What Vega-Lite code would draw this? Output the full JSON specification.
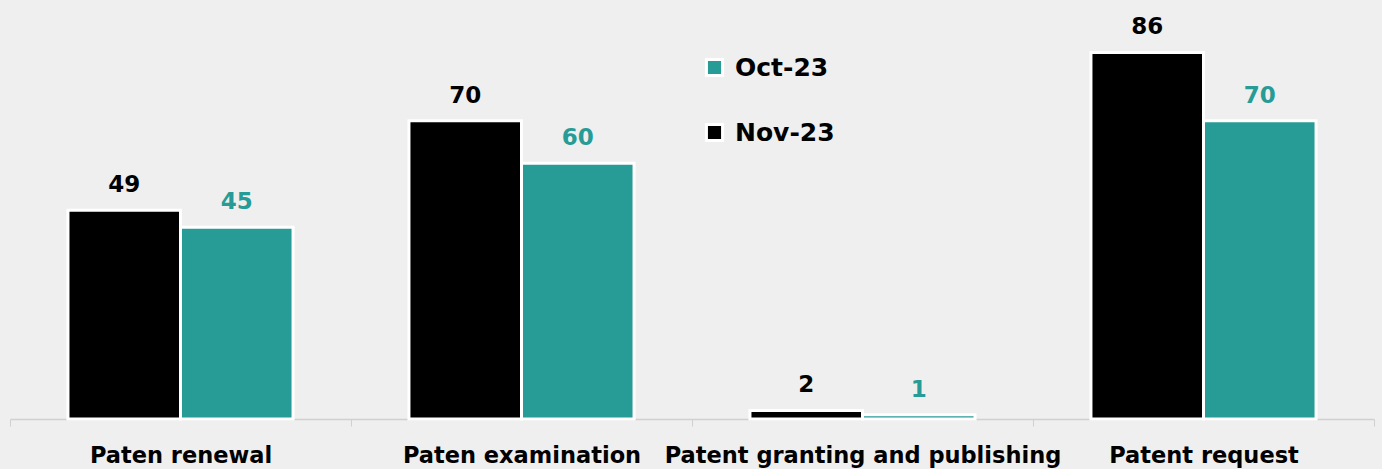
{
  "$schema": "https://vega.github.io/schema/vega-lite/v6.json",
  "width": 1364,
  "height": 419,
  "autosize": "none",
  "padding": {"left": 10, "right": 8, "top": 0, "bottom": 50},
  "background": "#efefef",
  "config": {"view": {"stroke": null}, "font": "DejaVu Sans"},
  "data": {"values": [
    {"category": "Paten renewal", "month": "Nov-23", "value": 49},
    {"category": "Paten renewal", "month": "Oct-23", "value": 45},
    {"category": "Paten examination", "month": "Nov-23", "value": 70},
    {"category": "Paten examination", "month": "Oct-23", "value": 60},
    {"category": "Patent granting and publishing", "month": "Nov-23", "value": 2},
    {"category": "Patent granting and publishing", "month": "Oct-23", "value": 1},
    {"category": "Patent request", "month": "Nov-23", "value": 86},
    {"category": "Patent request", "month": "Oct-23", "value": 70}
  ]},
  "encoding": {
    "x": {"field": "category", "type": "nominal", "sort": null,
      "scale": {"paddingInner": 0, "paddingOuter": 0},
      "axis": {"title": null, "labelAngle": 0, "labelFontSize": 22.5, "labelFontWeight": "bold", "labelColor": "#000000", "labelPadding": 18, "tickBand": "extent", "tickSize": 7, "tickColor": "#d0d0d0", "tickOffset": 0, "domainColor": "#d0d0d0", "domainWidth": 1.5, "labelLimit": 1000, "labelOverlap": false}},
    "xOffset": {"field": "month", "type": "nominal", "sort": ["Nov-23", "Oct-23"],
      "scale": {"paddingOuter": 0.515, "paddingInner": 0}},
    "y": {"field": "value", "type": "quantitative", "scale": {"domain": [0, 98.3], "nice": false}, "axis": null}
  },
  "layer": [
    {
      "mark": {"type": "bar", "stroke": "#ffffff", "strokeWidth": 3},
      "encoding": {
        "color": {"field": "month", "type": "nominal",
          "scale": {"domain": ["Oct-23", "Nov-23"], "range": ["#279b96", "#000000"]},
          "legend": {"title": null, "orient": "none", "legendX": 692, "legendY": 55, "labelFontSize": 25, "labelFontWeight": "bold", "labelColor": "#000000", "symbolType": "square", "symbolSize": 260, "symbolStrokeColor": "#ffffff", "symbolStrokeWidth": 3, "rowPadding": 36, "labelOffset": 8}}
      }
    },
    {
      "mark": {"type": "text", "baseline": "alphabetic", "dy": -18, "fontSize": 23, "fontWeight": "bold"},
      "encoding": {
        "text": {"field": "value", "type": "quantitative"},
        "color": {"field": "month", "type": "nominal", "legend": null}
      }
    }
  ]
}
